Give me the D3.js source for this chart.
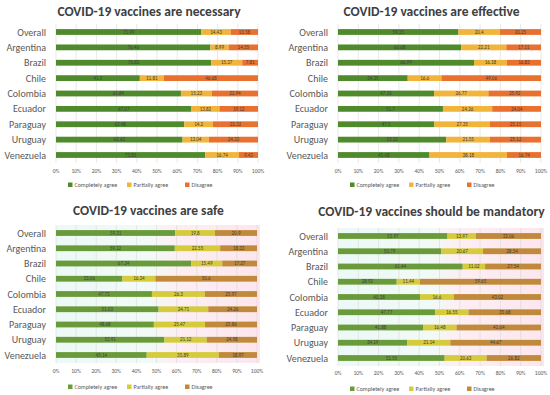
<!DOCTYPE html>
<html>
<head>
<meta charset="utf-8">
<script src="https://cdn.jsdelivr.net/npm/d3@7"></script>
<style>
  body { margin: 0; background: #fff; }
  svg { font-family: Calibri, Carlito, "Open Sans", sans-serif; }
</style>
</head>
<body>
<script>
const countries = ["Overall", "Argentina", "Brazil", "Chile", "Colombia", "Ecuador", "Paraguay", "Uruguay", "Venezuela"]
const seriesNames = ["Completely agree", "Partially agree", "Disagree"]
const ticks = [0, 10, 20, 30, 40, 50, 60, 70, 80, 90, 100]

// [completely agree, partially agree, disagree] per country
const necessary = [
  [71.99, 14.43, 13.58], [76.46, 8.99, 14.55], [76.82, 15.37, 7.81],
  [41.5, 11.81, 46.68], [61.84, 15.23, 22.94], [67.07, 13.82, 19.12],
  [63.48, 14.2, 22.32], [62.63, 13.04, 24.33], [73.83, 16.74, 9.43]
]
const effective = [
  [59.35, 20.4, 20.25], [60.68, 22.21, 17.11], [66.99, 16.18, 16.83],
  [34.35, 16.6, 49.06], [47.31, 26.77, 25.92], [51.7, 24.26, 24.04],
  [47.5, 27.35, 25.15], [53.32, 21.55, 25.12], [45.08, 38.18, 16.74]
]
const safe = [
  [59.31, 19.8, 20.9], [59.12, 22.55, 18.33], [67.24, 15.49, 17.27],
  [33.06, 16.34, 50.6], [47.73, 26.3, 25.97], [51.03, 24.71, 24.26],
  [48.68, 25.47, 25.86], [53.91, 21.12, 24.98], [45.14, 35.89, 18.97]
]
const mandatory = [
  [53.97, 13.97, 32.06], [50.79, 20.67, 28.54], [61.44, 11.02, 27.54],
  [28.92, 11.44, 59.65], [40.38, 16.6, 43.02], [47.77, 16.55, 35.68],
  [41.88, 16.48, 41.64], [34.19, 21.14, 44.67], [52.55, 20.63, 26.82]
]

const svg = d3.select('body').append('svg')
    .attr('width', 550)
    .attr('height', 395)

const defs = svg.append('defs')
const grad = defs.append('linearGradient').attr('id', 'tint')
grad.append('stop').attr('offset', '0%').attr('stop-color', '#ecf9f6')
grad.append('stop').attr('offset', '45%').attr('stop-color', '#f1faf6')
grad.append('stop').attr('offset', '60%').attr('stop-color', '#fdeef3')
grad.append('stop').attr('offset', '100%').attr('stop-color', '#fce6ee')

const colorsA = ["#4f8b2c", "#f2b53b", "#e9712f"]
const colorsB = ["#6a9b3b", "#d5cb3c", "#c1893a"]

function drawPanel(opts) {
    const { title, data, x0, x1, titleY, rowY0, rowY1, axisY, legendY, colors, tinted } = opts
    const g = svg.append('g')

    const x = d3.scaleLinear().domain([0, 100]).range([x0, x1])
    const y = d3.scalePoint().domain(countries).range([rowY0, rowY1])
    const bh = 5.8
    const plotTop = rowY0 - 8, plotBot = rowY1 + 8

    if (tinted) {
        g.append('rect')
            .attr('x', x0).attr('y', plotTop)
            .attr('width', x1 - x0 + 3).attr('height', plotBot - plotTop)
            .attr('fill', 'url(#tint)')
    }

    g.append('text')
        .attr('x', (x0 + x1) / 2 - 8)
        .attr('y', titleY)
        .attr('text-anchor', 'middle')
        .attr('font-size', 13.5)
        .attr('font-weight', 'bold')
        .attr('fill', '#404040')
        .text(title)

    g.selectAll('line.grid')
        .data(ticks)
        .enter()
        .append('line')
        .attr('x1', d => x(d)).attr('x2', d => x(d))
        .attr('y1', plotTop).attr('y2', plotBot)
        .attr('stroke', '#d9d9d9')
        .attr('stroke-width', 0.6)

    const rows = g.selectAll('g.row')
        .data(countries.map((c, i) => ({ c, v: data[i] })))
        .enter()
        .append('g')

    rows.each(function (d) {
        const r = d3.select(this)
        let acc = 0
        d.v.forEach((v, k) => {
            r.append('rect')
                .attr('x', x(acc))
                .attr('y', y(d.c) - bh / 2)
                .attr('width', x(acc + v) - x(acc))
                .attr('height', bh)
                .attr('fill', colors[k])
            r.append('text')
                .attr('x', x(acc + v / 2))
                .attr('y', y(d.c) + 1.7)
                .attr('text-anchor', 'middle')
                .attr('font-size', 5)
                .attr('fill', '#404040')
                .text(v)
            acc += v
        })
    })

    g.selectAll('text.cat')
        .data(countries)
        .enter()
        .append('text')
        .attr('x', x0 - 10)
        .attr('y', d => y(d) + 3.5)
        .attr('text-anchor', 'end')
        .attr('font-size', 10)
        .attr('fill', '#595959')
        .text(d => d)

    g.selectAll('text.tick')
        .data(ticks)
        .enter()
        .append('text')
        .attr('x', d => x(d))
        .attr('y', axisY)
        .attr('text-anchor', 'middle')
        .attr('font-size', 5.5)
        .attr('fill', '#595959')
        .text(d => d + '%')

    // legend
    const legendX = [x0 + 12, x0 + 71, x0 + 129]
    seriesNames.forEach((s, k) => {
        g.append('rect')
            .attr('x', legendX[k]).attr('y', legendY - 4.5)
            .attr('width', 4.5).attr('height', 4.5)
            .attr('fill', colors[k])
        g.append('text')
            .attr('x', legendX[k] + 6.5).attr('y', legendY)
            .attr('font-size', 6)
            .attr('fill', '#595959')
            .text(s)
    })
}

drawPanel({ title: "COVID-19 vaccines are necessary", data: necessary, x0: 56, x1: 258,
    titleY: 16, rowY0: 32, rowY1: 155, axisY: 173, legendY: 187, colors: colorsA })
drawPanel({ title: "COVID-19 vaccines are effective", data: effective, x0: 338, x1: 541,
    titleY: 16, rowY0: 32, rowY1: 155, axisY: 173, legendY: 187, colors: colorsA })
drawPanel({ title: "COVID-19 vaccines are safe", data: safe, x0: 56, x1: 257,
    titleY: 215, rowY0: 233, rowY1: 355, axisY: 373, legendY: 389, colors: colorsB, tinted: true })
drawPanel({ title: "COVID-19 vaccines should be mandatory", data: mandatory, x0: 338, x1: 541,
    titleY: 216, rowY0: 236, rowY1: 358, axisY: 375, legendY: 391, colors: colorsB, tinted: true })
</script>
</body>
</html>
